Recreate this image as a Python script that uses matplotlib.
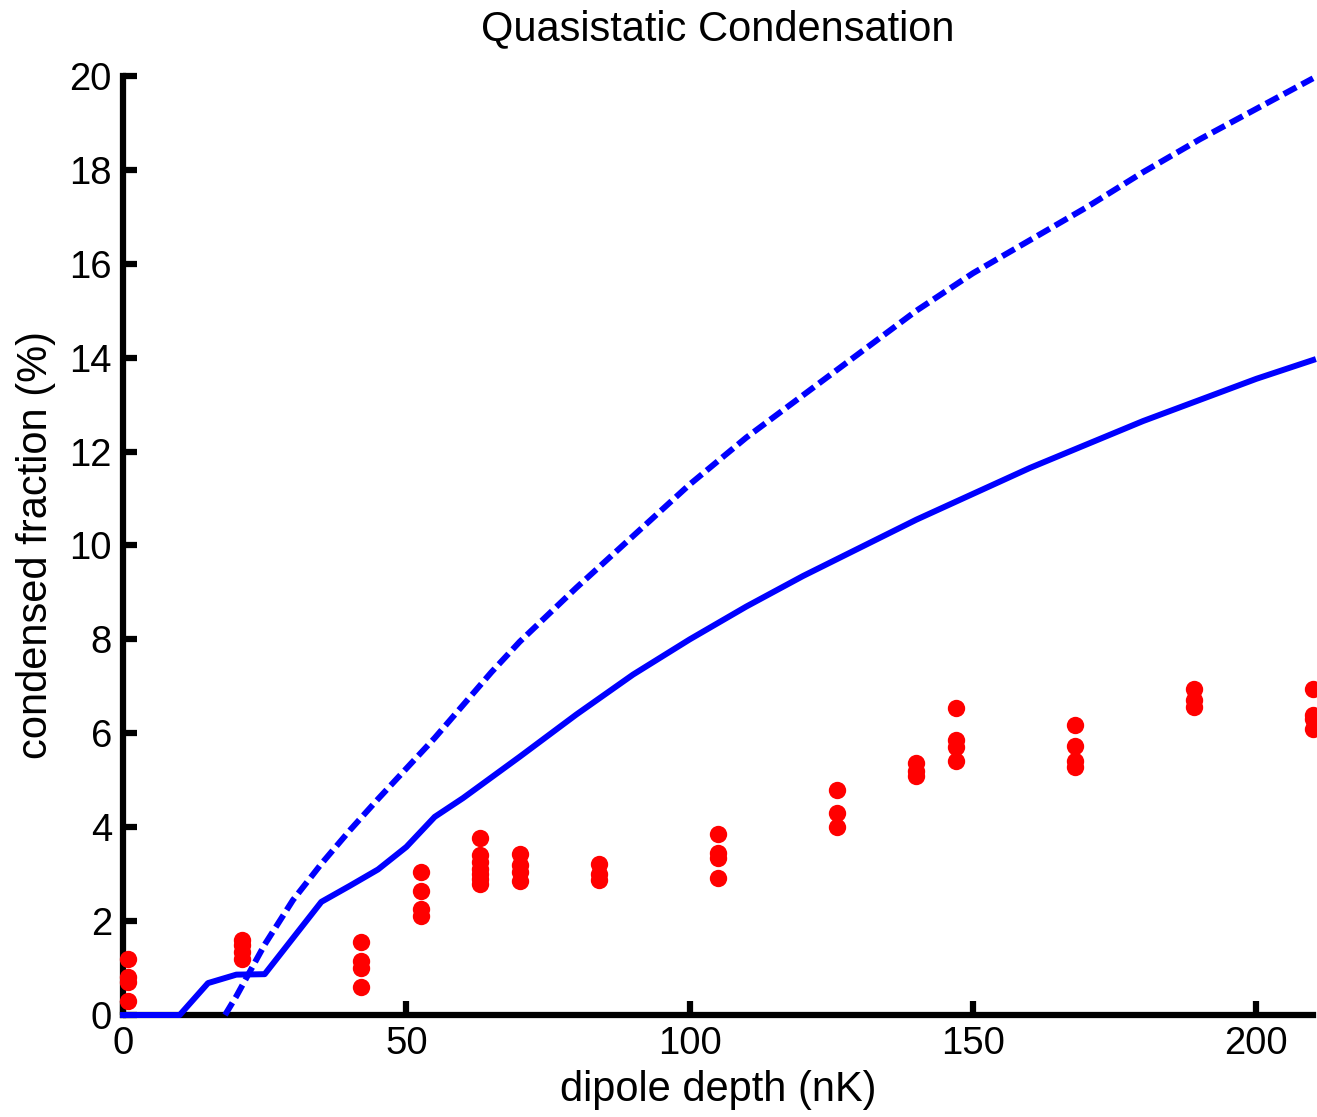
import matplotlib
matplotlib.use("Agg")
import matplotlib.pyplot as plt

# ---- data ----
solid_x = [0, 10, 15, 20, 25, 30, 35, 40, 45, 50, 55, 60, 70, 80, 90, 100,
           110, 120, 130, 140, 150, 160, 170, 180, 190, 200, 210]
solid_y = [0, 0, 0.68, 0.86, 0.87, 1.64, 2.41, 2.75, 3.1, 3.58, 4.22, 4.62,
           5.5, 6.4, 7.25, 8.0, 8.7, 9.35, 9.95, 10.55, 11.1, 11.65, 12.15,
           12.65, 13.1, 13.55, 13.95]

dash_x = [18, 20, 25, 30, 35, 40, 45, 50, 55, 60, 65, 70, 80, 90, 100, 110,
          120, 130, 140, 150, 160, 170, 180, 190, 200, 210]
dash_y = [0, 0.4, 1.5, 2.45, 3.22, 3.93, 4.6, 5.25, 5.9, 6.6, 7.3, 7.95,
          9.1, 10.2, 11.3, 12.3, 13.2, 14.1, 15.0, 15.8, 16.5, 17.2, 17.95,
          18.65, 19.3, 19.95]

depths = [0.8, 21, 42, 52.5, 63, 70, 84, 105, 126, 140, 147, 168, 189, 210]
fractions = [
    [1.2, 0.8, 0.7, 0.3],
    [1.6, 1.5, 1.35, 1.2],
    [1.55, 1.15, 1.0, 0.6],
    [3.05, 2.65, 2.25, 2.1],
    [3.77, 3.4, 3.25, 3.1, 3.0, 2.9, 2.8],
    [3.42, 3.2, 3.05, 2.85],
    [3.22, 3.0, 2.88],
    [3.85, 3.45, 3.35, 2.92],
    [4.79, 4.3, 4.0],
    [5.37, 5.2, 5.1],
    [6.54, 5.85, 5.7, 5.4],
    [6.18, 5.72, 5.4, 5.28],
    [6.95, 6.7, 6.56],
    [6.95, 6.4, 6.3, 6.1],
]

xticks = [0, 50, 100, 150, 200]
yticks = [0, 2, 4, 6, 8, 10, 12, 14, 16, 18, 20]

plt.rcParams['font.family'] = ['Liberation Sans', 'DejaVu Sans']

fig = plt.figure(figsize=(13.17, 11.17), dpi=100)
ax = fig.add_axes([0.0934, 0.0913, 0.9036, 0.8407])

pts_x = []
pts_y = []
for d, fr in zip(depths, fractions):
    for f in fr:
        pts_x.append(d)
        pts_y.append(f)
ax.plot(pts_x, pts_y, 'o', color='#ff0000', markersize=12.5,
        markeredgewidth=0, clip_on=False, zorder=4)

ax.plot(solid_x, solid_y, '-', color='#0000ff', linewidth=4.3, zorder=3,
        clip_on=False)
ax.plot(dash_x, dash_y, '--', color='#0000ff', linewidth=4.3,
        dashes=(2.4, 1.0), zorder=3, clip_on=False)

ax.set_xlim(0, 210)
ax.set_ylim(0, 20)
ax.set_xticks(xticks)
ax.set_yticks(yticks)
ax.set_xticklabels([str(t) for t in xticks])
ax.set_yticklabels([str(t) for t in yticks])

for s in ['top', 'right']:
    ax.spines[s].set_visible(False)
for s in ['left', 'bottom']:
    ax.spines[s].set_linewidth(4.5)
    ax.spines[s].set_color('black')
    ax.spines[s].set_zorder(2)

ax.tick_params(direction='in', length=10, width=4.5, labelsize=27.5, pad=8)

ax.set_title('Quasistatic Condensation', fontsize=30, pad=26)
ax.set_xlabel('dipole depth (nK)', fontsize=30, labelpad=6)
ax.set_ylabel('condensed fraction (%)', fontsize=30, labelpad=10)

fig.savefig('out.png', dpi=100)
